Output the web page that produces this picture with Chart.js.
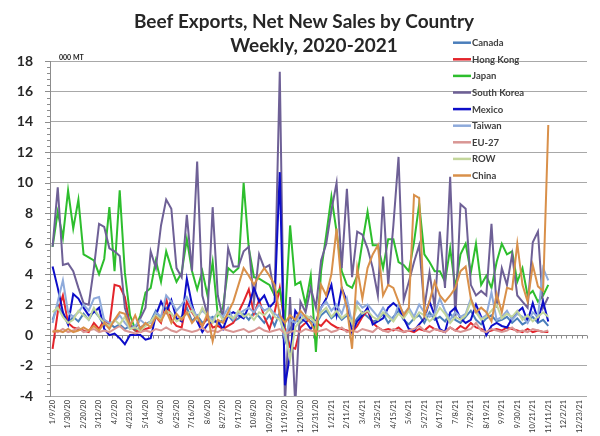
<!DOCTYPE html>
<html lang="en">
<head>
  <meta charset="UTF-8" />
  <title>Beef Exports, Net New Sales by Country</title>
  <script src="https://cdn.jsdelivr.net/npm/chart.js"></script>
  <style>
    body { margin: 0; background: #fff; }
    canvas { display: block; }
  </style>
</head>
<body>
<canvas id="chart" width="600" height="436"></canvas>
<script>
const titleLines = ['Beef Exports, Net New Sales by Country', 'Weekly, 2020-2021'];
const unitLabel = '000 MT';

// weekly categories (Thursdays)
const weeks = [
  '1/9/20','1/16/20','1/23/20','1/30/20','2/6/20','2/13/20','2/20/20','2/27/20','3/5/20','3/12/20',
  '3/19/20','3/26/20','4/2/20','4/9/20','4/16/20','4/23/20','4/30/20','5/7/20','5/14/20','5/21/20',
  '5/28/20','6/4/20','6/11/20','6/18/20','6/25/20','7/2/20','7/9/20','7/16/20','7/23/20','7/30/20',
  '8/6/20','8/13/20','8/20/20','8/27/20','9/3/20','9/10/20','9/17/20','9/24/20','10/1/20','10/8/20',
  '10/15/20','10/22/20','10/29/20','11/5/20','11/12/20','11/19/20','11/26/20','12/3/20','12/10/20','12/17/20',
  '12/24/20','12/31/20','1/7/21','1/14/21','1/21/21','1/28/21','2/4/21','2/11/21','2/18/21','2/25/21',
  '3/4/21','3/11/21','3/18/21','3/25/21','4/1/21','4/8/21','4/15/21','4/22/21','4/29/21','5/6/21',
  '5/13/21','5/20/21','5/27/21','6/3/21','6/10/21','6/17/21','6/24/21','7/1/21','7/8/21','7/15/21',
  '7/22/21','7/29/21','8/5/21','8/12/21','8/19/21','8/26/21','9/2/21','9/9/21','9/16/21','9/23/21',
  '9/30/21','10/7/21','10/14/21','10/21/21','10/28/21','11/4/21','11/11/21','11/18/21','11/25/21','12/2/21',
  '12/9/21','12/16/21','12/23/21','12/30/21'
];

const canada = [
  1.0, 2.0, 1.4, 0.8, 1.2, 0.9, 1.4, 1.0, 1.6, 1.2,
  0.6, 0.8, 0.5, 0.7, 0.4, 0.6, 0.3, 0.5, 0.7, 0.9,
  1.6, 1.0, 1.8, 1.4, 1.0, 1.2, 1.8, 0.9, 1.3, 0.8,
  1.0, 1.2, 0.7, 1.0, 1.3, 0.9, 1.1, 1.4, 1.0, 1.5,
  1.2, 0.8, 1.3, 0.6, 1.5, -0.5, 0.4, 1.0, 0.8, 1.1,
  0.9, 0.7, 1.3, 1.6, 1.1, 1.4, 1.0, 1.3, 0.6, 1.1,
  1.5, 1.2, 0.9, 1.0, 1.4, 0.8, 1.2, 1.6, 1.0, 0.7,
  1.1, 1.3, 0.8, 1.5, 1.0, 1.2, 0.9, 1.4, 1.0, 0.8,
  1.2, 1.6, 1.0, 0.7, 1.1, 1.3, 0.9, 1.0, 1.2, 0.8,
  1.1, 0.7, 0.9, 1.2, 0.8, 1.0, 0.6
];
const hongKong = [
  -0.9, 1.5, 2.6, 0.8, 0.5, 0.4, 0.3, 0.2, 0.8, 0.4,
  1.0, 0.6, 3.3, 3.2, 2.5, 0.6, 0.3, 0.2, 0.4, 0.5,
  1.2, 0.8, 2.4, 1.0, 0.6, 0.5, 2.2, 1.5, 1.0, 0.6,
  1.2, 0.5, 0.6, 0.4, 0.6, 0.8, 1.5, 2.2, 3.0, 1.4,
  2.3, 1.2, 0.4, 1.5, 3.1, 0.5, -0.8, -0.9, 0.5, 0.8,
  1.2, 0.8, 0.6, 1.0, 0.7, 0.5, 0.4, 0.3, 0.2, 0.6,
  1.2, 1.6, 0.8, 0.5, 0.3, 0.4, 0.3, 0.5, 0.2, 0.3,
  0.2, 0.4, 0.3, 0.6, 0.4, 0.3, 0.2, 0.5, 0.3, 0.6,
  0.4, 0.8, 0.5, 0.4, 0.2, 0.3, 0.4, 0.3, 0.5, 0.4,
  0.3, 0.2, 0.4, 0.2, 0.3, 0.2, 0.2
];
const japan = [
  5.8, 8.1, 6.4, 9.5, 7.0, 8.9, 5.3, 5.1, 4.9, 4.0,
  5.0, 8.4, 4.2, 9.5, 4.1, 1.3, 0.4, 1.3, 2.8, 3.1,
  4.9, 3.5, 5.5, 4.4, 3.5, 4.1, 6.3, 4.2, 3.0, 4.2,
  2.6, 4.8, 1.3, 1.8, 4.4, 4.1, 4.4, 10.0, 5.7, 3.8,
  3.7, 3.5, 3.3, 2.6, 3.0, 1.0, 7.2, 3.3, 3.5, 2.0,
  3.9, -1.1, 4.2, 6.6, 9.1, 6.8, 4.2, 3.3, 3.1, 3.9,
  6.1, 8.1, 5.9, 5.9, 4.4, 6.3, 6.3, 4.8, 4.6, 4.2,
  6.1, 8.6, 5.3, 4.8, 4.2, 4.2, 3.5, 5.7, 3.1, 5.3,
  6.0, 4.1, 6.0, 3.3, 3.9, 3.1, 4.8, 6.0, 5.3, 5.5,
  3.5, 4.4, 2.6, 2.9, 2.2, 2.6, 3.3
];
const southKorea = [
  5.8, 9.7, 4.6, 4.7, 4.2, 3.1, 2.1, 2.0, 4.4, 7.3,
  7.1, 5.7, 5.5, 5.2, 1.8, 0.7, 0.4, 1.1, 1.8, 5.5,
  4.4, 7.2, 8.9, 8.3, 4.4, 3.8, 7.9, 4.2, 11.4, 2.6,
  1.3, 8.4, 2.6, 1.1, 5.7, 4.5, 4.5, 5.5, 5.8, 2.2,
  5.3, 4.4, 4.6, 2.6, 17.3, -4.6, 2.5, -4.6, 2.2, 1.5,
  3.1, 1.8, 4.9, 6.0, 8.2, 10.0, 4.4, 9.6, 3.8, 6.8,
  6.6, 5.7, 4.4, 2.6, 9.1, 3.3, 7.2, 11.7, 2.3, 3.5,
  4.8, 5.9, 1.8, 4.1, 1.8, 6.8, 3.1, 10.4, 1.1, 8.6,
  8.3, 3.3, 2.6, 2.9, 2.6, 7.3, 1.8, 4.4, 3.3, 5.3,
  2.6, 2.2, 1.8, 6.1, 6.8, 1.8, 2.5
];
const mexico = [
  4.5, 3.1, 1.5, 0.7, 2.7, 2.4, 1.8, 1.3, 1.5, 1.8,
  0.4, 0.0, 0.1, -0.2, -0.6, 0.0, 0.0, 0.0, -0.3, -0.2,
  1.3, 2.2, 1.5, 2.3, 1.1, 0.9, 3.7, 2.0, 0.9, 0.2,
  0.7, 0.9, 0.9, 0.4, 1.3, 1.5, 1.3, 1.1, 1.9, 3.1,
  2.2, 2.6, 1.8, 2.2, 10.7, -3.3, -1.3, 1.6, 1.1, 0.9,
  0.4, 0.9, 1.8, 2.4, 3.3, 1.3, 3.1, 2.2, 0.2, 0.9,
  1.3, 1.8, 0.7, 0.9, 1.1, 1.8, 2.1, 1.8, 1.1, 0.4,
  0.3, 0.7, 1.1, 2.2, 1.3, 0.4, 0.2, 1.5, 1.8, 1.1,
  0.8, 1.0, 2.0, 1.2, 0.0, 0.6, 0.8, 0.6, 0.5, 1.1,
  1.5, 1.8, 0.9, 2.1, 1.0, 2.2, 0.9
];
const taiwan = [
  0.8, 2.2, 3.6, 1.5, 1.2, 1.5, 2.0, 1.6, 2.4, 2.5,
  1.0, 0.8, 0.9, 1.3, 0.8, 0.4, 0.6, 1.0, 0.7, 0.8,
  1.5, 1.2, 2.6, 2.2, 1.6, 2.0, 2.5, 1.8, 1.2, 1.6,
  1.3, 1.0, 1.5, 1.2, 1.8, 1.0, 1.4, 1.6, 1.8, 1.5,
  2.0, 1.6, 1.8, 1.4, 1.2, -0.3, 1.0, 0.8, 1.4, 1.0,
  1.2, 0.6, 1.8, 2.2, 1.6, 2.0, 1.4, 2.4, 0.8, 2.2,
  1.8, 2.0, 1.6, 1.2, 1.8, 1.3, 1.0, 2.0, 1.4, 1.8,
  1.2, 2.0, 1.5, 1.2, 1.4, 2.4, 1.6, 1.0, 1.5, 1.2,
  1.4, 2.4, 1.6, 1.1, 1.3, 2.8, 1.0, 1.2, 1.6, 1.0,
  1.4, 1.2, 0.8, 1.5, 1.2, 4.4, 3.6
];
const eu27 = [
  0.3, 0.2, 0.4, 0.2, 0.3, 0.5, 0.2, 0.3, 0.4, 0.2,
  0.3, 0.2, 0.4, 0.6, 0.3, 0.2, 0.1, 0.2, 0.3, 0.2,
  0.4, 0.3, 0.5, 0.3, 0.2, 0.4, 0.3, 0.2, 0.3, 0.5,
  0.2, 0.3, 0.2, 0.4, 0.3, 0.2, 0.3, 0.4, 0.2, 0.3,
  0.5, 0.3, 0.2, 0.3, 0.4, 0.1, 0.2, 0.3, 0.2, 0.4,
  0.3, 0.2, 0.3, 0.4, 0.2, 0.3, 0.5, 0.2, 0.3, 0.2,
  0.4, 0.3, 0.2, 0.5, 0.3, 0.2, 0.4, 0.3, 0.2, 0.3,
  0.4, 0.6, 0.3, 0.2, 0.4, 0.3, 0.2, 0.5, 0.3, 0.2,
  0.3, 0.4, 0.8, 0.3, 0.2, 0.4, 0.3, 0.2, 0.3, 0.5,
  0.2, 0.3, 0.2, 0.4, 0.3, 0.2, 0.3
];
const row = [
  1.5, 1.8, 1.2, 0.8, 1.0, 1.6, 1.3, 1.0, 1.8, 1.2,
  0.8, 0.6, 1.0, 0.7, 1.2, 0.4, 0.5, 0.3, 0.6, 0.9,
  1.3, 1.0, 1.6, 1.4, 0.9, 1.1, 1.4, 1.6, 1.0, 1.8,
  1.2, 0.8, 1.5, 1.0, 1.3, 1.1, 1.6, 1.2, 1.4, 1.0,
  1.5, 1.3, 1.7, 1.2, 1.0, 0.2, -1.6, 0.5, 1.0, 1.3,
  1.1, 0.8, 1.5, 1.8, 1.2, 1.6, 1.1, 1.4, 0.8, 1.9,
  1.4, 1.6, 1.2, 1.0, 1.5, 1.2, 0.9, 1.4, 1.1, 1.6,
  1.0, 1.5, 1.3, 0.9, 1.2, 1.8, 1.4, 0.8, 1.2, 1.0,
  1.3, 2.2, 1.5, 1.0, 1.2, 1.6, 2.0, 1.1, 1.4, 1.2,
  1.6, 1.0, 1.3, 0.9, 1.2, 1.5, 1.2
];
const china = [
  0.2, 0.3, 0.2, 0.4, 0.2, 0.3, 0.5, 0.3, 0.6, 0.3,
  0.8, 0.4, 1.0, 1.5, 1.4, 0.6, 1.3, 0.4, 0.8, 0.5,
  1.2, 0.9, 1.6, 0.8, 1.4, 1.0, 1.5, 0.8, 1.2, 0.6,
  1.4, -0.4, 1.0, 0.8, 1.5, 2.2, 3.3, 4.4, 3.9, 3.3,
  3.9, 4.4, 3.9, 3.3, 1.3, 0.8, 1.3, 1.0, 1.6, 1.2,
  0.8, 0.1, 3.3, 2.6, 4.0, 7.0, 3.1, 1.8, -0.9, 4.4,
  2.4, 4.4, 5.3, 5.9, 2.6, 3.3, 3.1, 2.2, 1.3, 1.8,
  9.2, 9.0, 1.3, 2.2, 3.5, 2.6, 2.2, 2.6, 3.1, 4.2,
  4.5, 2.4, 1.5, 1.8, 1.5, 0.9, 2.7, 1.5, 3.1, 3.0,
  6.0, 3.3, 2.2, 4.6, 3.2, 2.9, 13.8
];

const seriesNames = ['Canada', 'Hong Kong', 'Japan', 'South Korea', 'Mexico', 'Taiwan', 'EU-27', 'ROW', 'China'];
const seriesData = [canada, hongKong, japan, southKorea, mexico, taiwan, eu27, row, china];
const seriesColors = ['#4A7EBB', '#E3242B', '#2DBE2D', '#6E6096', '#0D0DC8', '#8EAADB', '#D99694', '#C3D69B', '#D9904A'];

const yTicks = [-4, -2, 0, 2, 4, 6, 8, 10, 12, 14, 16, 18];

// title, unit, zero axis, minor ticks, legend
const decor = {
  id: 'decor',
  beforeDatasetsDraw(chart) {
    const ctx = chart.ctx, a = chart.chartArea, ys = chart.scales.y, xs = chart.scales.x;
    ctx.save();
    ctx.strokeStyle = '#8c8c8c';
    ctx.lineWidth = 1;
    // y axis minor/major ticks
    for (let k = 0; k <= 55; k++) {
      const v = yTicks[0] + k * 0.4;
      const py = Math.round(ys.getPixelForValue(v)) + 0.5;
      const len = (k % 5 === 0) ? 5 : 3;
      ctx.beginPath();
      ctx.moveTo(a.left - len, py);
      ctx.lineTo(a.left, py);
      ctx.stroke();
    }
    // category axis drawn at zero
    const y0 = Math.round(ys.getPixelForValue(0)) + 0.5;
    ctx.beginPath();
    ctx.moveTo(a.left, y0);
    ctx.lineTo(a.right, y0);
    ctx.stroke();
    const step = (a.right - a.left) / weeks.length;
    for (let i = 0; i <= weeks.length; i++) {
      const px = Math.round(a.left + i * step) + 0.5;
      ctx.beginPath();
      ctx.moveTo(px, y0);
      ctx.lineTo(px, y0 + 3);
      ctx.stroke();
    }
    ctx.restore();
  },
  afterDraw(chart) {
    const ctx = chart.ctx;
    ctx.save();
    ctx.fillStyle = '#262626';
    ctx.textAlign = 'center';
    ctx.textBaseline = 'alphabetic';
    ctx.font = 'bold 19px Lato';
    ctx.fillText(titleLines[0], 304, 28);
    ctx.fillText(titleLines[1], 314, 52);
    ctx.textAlign = 'left';
    ctx.font = 'bold 7px Lato';
    ctx.fillText(unitLabel, 59, 60);
    // legend
    ctx.font = 'bold 9.5px Lato';
    ctx.textBaseline = 'middle';
    chart.data.datasets.forEach((ds, i) => {
      const ly = 42.7 + i * 16.6;
      ctx.strokeStyle = ds.borderColor;
      ctx.lineWidth = 2.5;
      ctx.beginPath();
      ctx.moveTo(453, ly);
      ctx.lineTo(471, ly);
      ctx.stroke();
      ctx.fillStyle = '#404040';
      ctx.fillText(ds.label, 472, ly + 0.5);
    });
    ctx.restore();
  }
};

const ctx = document.getElementById('chart').getContext('2d');
new Chart(ctx, {
  type: 'line',
  data: {
    labels: weeks,
    datasets: seriesNames.map((name, i) => ({
      label: name,
      data: seriesData[i],
      borderColor: seriesColors[i],
      backgroundColor: seriesColors[i],
      borderWidth: 2,
      pointRadius: 0,
      tension: 0,
      fill: false,
      order: seriesNames.length - i
    }))
  },
  options: {
    responsive: false,
    animation: false,
    layout: { padding: { left: 8, right: 13, top: 61, bottom: 0 } },
    plugins: {
      legend: { display: false },
      title: { display: false },
      tooltip: { enabled: false }
    },
    scales: {
      x: {
        type: 'category',
        offset: true,
        grid: { display: false, drawTicks: false },
        border: { display: false },
        ticks: {
          autoSkip: false,
          minRotation: 90,
          maxRotation: 90,
          padding: 4,
          color: '#333',
          font: { family: 'Lato', size: 7.5 },
          callback: (v, i) => (i % 3 === 0 ? weeks[i] : '')
        },
        afterFit: s => { s.height = 40; }
      },
      y: {
        min: -4,
        max: 18,
        afterBuildTicks: s => { s.ticks = yTicks.map(v => ({ value: v })); },
        grid: { color: '#a8a8a8', lineWidth: 1, drawTicks: false },
        border: { display: true, color: '#8c8c8c', width: 1 },
        ticks: {
          padding: 17,
          color: '#262626',
          font: { family: 'Lato', size: 14, weight: 'bold' }
        },
        afterFit: s => { s.width = 42; }
      }
    }
  },
  plugins: [decor]
});
</script>
</body>
</html>
